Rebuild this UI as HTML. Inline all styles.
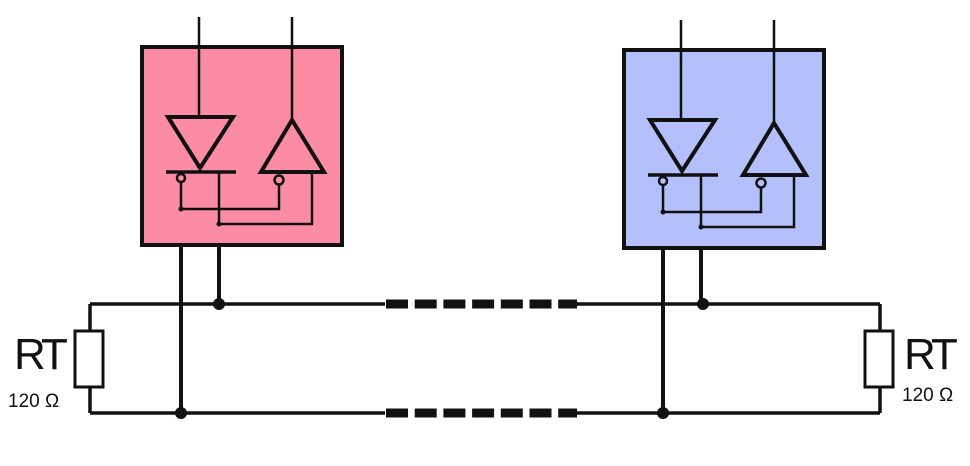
<!DOCTYPE html>
<html><head><style>html,body{margin:0;padding:0;background:#fff}svg{display:block}</style></head>
<body>
<svg width="970" height="466" viewBox="0 0 970 466" xmlns="http://www.w3.org/2000/svg" font-family="Liberation Sans, sans-serif">
<defs>
<g id="unit" stroke="#111" fill="none">
  <line x1="199" y1="17" x2="199" y2="116" stroke-width="2.5"/>
  <line x1="292" y1="17" x2="292" y2="118" stroke-width="2.5"/>
  <polygon points="168,117 233,117 200,168" stroke-width="4" stroke-linejoin="miter"/>
  <line x1="166" y1="172" x2="236" y2="172" stroke-width="3.5"/>
  <polygon points="292,120 324,172 261,172" stroke-width="4"/>
  <circle cx="181" cy="178" r="4" stroke-width="2.5"/>
  <circle cx="279" cy="180" r="4.5" stroke-width="2.5"/>
  <polyline points="181,183 181,209 279,209 279,185" stroke-width="2.5"/>
  <polyline points="219,172 219,224 312,224 312,172" stroke-width="2.5"/>
  <circle cx="181" cy="209" r="2.5" fill="#111" stroke="none"/>
  <circle cx="219" cy="224" r="2.5" fill="#111" stroke="none"/>
  <line x1="181" y1="245" x2="181" y2="413" stroke-width="4"/>
  <line x1="219" y1="245" x2="219" y2="304" stroke-width="4"/>
</g>
</defs>
<rect x="142" y="47" width="200" height="198" fill="#fb8ca4" stroke="#111" stroke-width="4"/>
<rect x="624" y="50" width="200" height="198" fill="#b3c0fb" stroke="#111" stroke-width="4"/>
<g stroke="#111" fill="none" stroke-width="3.5">
  <line x1="90" y1="304" x2="385" y2="304"/>
  <line x1="575" y1="304" x2="880" y2="304"/>
  <line x1="90" y1="413" x2="385" y2="413"/>
  <line x1="575" y1="413" x2="880" y2="413"/>
  <line x1="90" y1="304" x2="90" y2="413"/>
  <line x1="880" y1="304" x2="880" y2="413"/>
  <line x1="386" y1="304" x2="577" y2="304" stroke-width="9" stroke-dasharray="22 6.7"/>
  <line x1="386" y1="413" x2="577" y2="413" stroke-width="9" stroke-dasharray="22 6.7"/>
  <rect x="75" y="331" width="28" height="56" fill="#fff" stroke-width="3"/>
  <rect x="865" y="331" width="28" height="56" fill="#fff" stroke-width="3"/>
</g>
<use href="#unit"/>
<use href="#unit" transform="translate(482,3)"/>
<g fill="#111">
  <circle cx="219" cy="304" r="6"/>
  <circle cx="181" cy="413" r="6"/>
  <circle cx="703" cy="304" r="6"/>
  <circle cx="663" cy="413" r="6"/>
</g>
<g fill="#111">
  <text x="14" y="369" font-size="44" letter-spacing="-4">RT</text>
  <text x="8" y="407" font-size="19">120 Ω</text>
  <text x="904" y="369" font-size="44" letter-spacing="-4">RT</text>
  <text x="902" y="401" font-size="19">120 Ω</text>
</g>
</svg>
</body></html>
